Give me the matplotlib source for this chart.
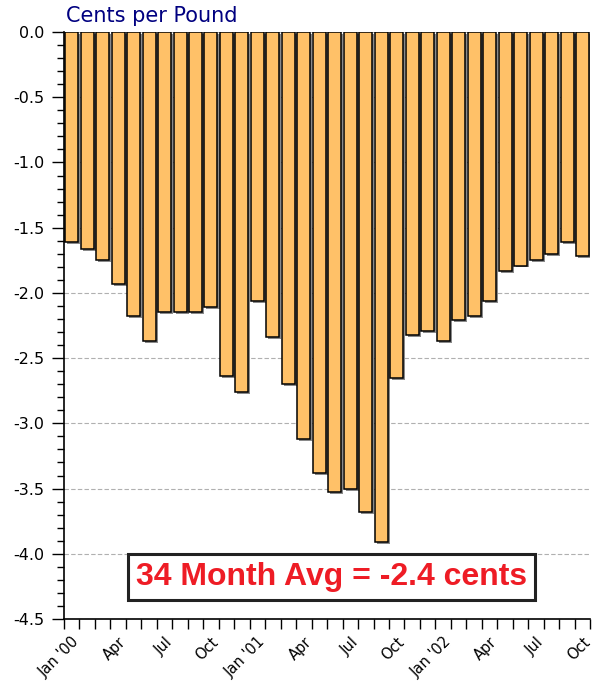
import numpy as np
import matplotlib.pyplot as plt
from matplotlib.ticker import MultipleLocator

plt.rcParams['font.family'] = ['DejaVu Sans']

# monthly values, Jan 2000 - Oct 2002 (cents per pound)
months = ["Jan '00", "Feb", "Mar", "Apr", "May", "Jun", "Jul", "Aug", "Sep", "Oct", "Nov", "Dec",
          "Jan '01", "Feb", "Mar", "Apr", "May", "Jun", "Jul", "Aug", "Sep", "Oct", "Nov", "Dec",
          "Jan '02", "Feb", "Mar", "Apr", "May", "Jun", "Jul", "Aug", "Sep", "Oct"]
values = [-1.61, -1.66, -1.75, -1.93, -2.18, -2.37, -2.15, -2.15, -2.15, -2.11, -2.64, -2.76,
          -2.06, -2.34, -2.70, -3.12, -3.38, -3.53, -3.50, -3.68, -3.91, -2.65, -2.32, -2.29,
          -2.37, -2.21, -2.18, -2.06, -1.83, -1.79, -1.75, -1.70, -1.61, -1.72]
label_idx = [0, 3, 6, 9, 12, 15, 18, 21, 24, 27, 30, 33]
avg_text = "34 Month Avg = -2.4 cents"

x = np.arange(len(values))

fig = plt.figure(figsize=(5.92, 6.81), dpi=100)
ax = fig.add_axes([0.108, 0.091, 0.889, 0.862])

# drop shadow then bars
ax.bar(x + 0.13, values, width=0.84, bottom=-0.015, color='#8a8a8a', edgecolor='none', zorder=2)
ax.bar(x, values, width=0.84, color='#FFC168', edgecolor='black', linewidth=1.1, zorder=3)

ax.set_xlim(-0.5, len(values) - 0.5)
ax.set_ylim(-4.5, 0)

ax.yaxis.set_major_locator(MultipleLocator(0.5))
ax.yaxis.set_minor_locator(MultipleLocator(0.1))
ax.yaxis.set_major_formatter(plt.FuncFormatter(lambda v, p: f"{v:.1f}"))
ax.tick_params(axis='y', which='major', length=9, width=1, labelsize=11.5, pad=5)
ax.tick_params(axis='y', which='minor', length=5, width=1)

# month boundary ticks, labels under every third month
ax.set_xticks(np.arange(len(values) + 1) - 0.5)
ax.set_xticklabels([])
ax.set_xticks(x[label_idx], minor=True)
ax.set_xticklabels([months[i] for i in label_idx], minor=True, rotation=45, ha='right',
                   rotation_mode='anchor', fontsize=10.5)
ax.tick_params(axis='x', which='major', length=7, width=1)
ax.tick_params(axis='x', which='minor', length=0, pad=11)

ax.grid(axis='y', which='major', color='#b0b0b0', linestyle=(0, (4, 2)), linewidth=0.8, zorder=0)
ax.set_axisbelow(True)

for s in ['top', 'right']:
    ax.spines[s].set_visible(False)
ax.spines['left'].set_linewidth(1.2)
ax.spines['bottom'].set_linewidth(1.2)

fig.text(0.112, 0.977, "Cents per Pound", color='#000080', fontsize=15, ha='left', va='center')

fig.text(0.56, 0.153, avg_text, ha='center', va='center', family='Liberation Sans',
         color='#EE1C25', fontsize=23, fontweight='bold', zorder=5,
         bbox=dict(boxstyle='square,pad=0.26', facecolor='white', edgecolor='#222222', linewidth=2.2))

fig.savefig('out.png', dpi=100)
